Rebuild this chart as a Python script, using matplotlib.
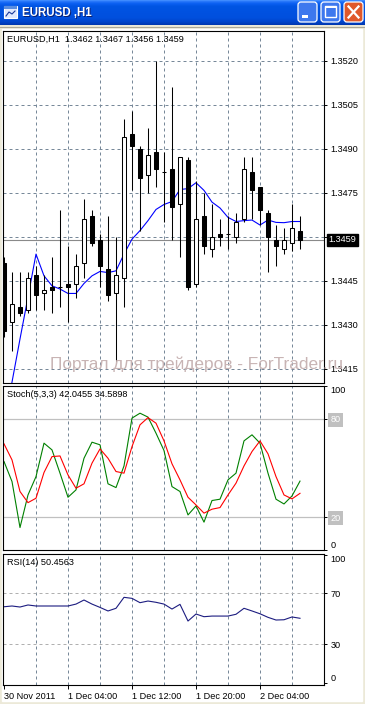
import numpy as np
import matplotlib
matplotlib.use("Agg")
import matplotlib.pyplot as plt
from matplotlib.patches import Rectangle, FancyBboxPatch
from matplotlib.transforms import blended_transform_factory

plt.rcParams['font.family'] = ['Liberation Sans', 'DejaVu Sans']

# EURUSD H1 bars, 30 Nov 20:00 .. 2 Dec 09:00
opens = [1.3451, 1.3431, 1.3436, 1.3435, 1.3447, 1.3441, 1.3443, 1.3443, 1.3444, 1.3444,
         1.3451, 1.3467, 1.3459, 1.3449, 1.3441, 1.3446, 1.3495, 1.3490, 1.3481, 1.3489,
         1.3482, 1.3483, 1.3471, 1.3486, 1.3444, 1.3467, 1.3456, 1.3461, 1.3461, 1.3460,
         1.3466, 1.3482, 1.3477, 1.3468, 1.3459, 1.3456, 1.3458, 1.3462]
highs = [1.3453, 1.3448, 1.3448, 1.3448, 1.3450, 1.3447, 1.3453, 1.3469, 1.3457, 1.3454,
         1.3473, 1.3469, 1.3461, 1.3467, 1.3460, 1.3500, 1.3503, 1.3491, 1.3497, 1.3520,
         1.3489, 1.3511, 1.3487, 1.3487, 1.3479, 1.3475, 1.3471, 1.3466, 1.3467, 1.3468,
         1.3487, 1.3487, 1.3477, 1.3469, 1.3464, 1.3463, 1.3471, 1.3467]
lows = [1.3426, 1.3421, 1.3433, 1.3434, 1.3435, 1.3435, 1.3434, 1.3436, 1.3431, 1.3439,
        1.3446, 1.3457, 1.3443, 1.3438, 1.3417, 1.3436, 1.3476, 1.3462, 1.3475, 1.3477,
        1.3465, 1.3459, 1.3453, 1.3442, 1.3443, 1.3454, 1.3453, 1.3457, 1.3456, 1.3458,
        1.3465, 1.3466, 1.3464, 1.3448, 1.3450, 1.3454, 1.3455, 1.3456]
closes = [1.3428, 1.3437, 1.3434, 1.3446, 1.3440, 1.3442, 1.3442, 1.3443, 1.3443, 1.3450,
          1.3466, 1.3458, 1.3450, 1.3440, 1.3447, 1.3494, 1.3491, 1.3480, 1.3488, 1.3483,
          1.3482, 1.3470, 1.3487, 1.3443, 1.3466, 1.3457, 1.3460, 1.3460, 1.3461, 1.3465,
          1.3483, 1.3476, 1.3469, 1.3460, 1.3457, 1.3459, 1.3463, 1.3459]
ma = [1.33958, 1.34105, 1.34252, 1.34395, 1.34541, 1.34467, 1.34433, 1.34422, 1.34407, 1.34407,
      1.34441, 1.34467, 1.34482, 1.34478, 1.34484, 1.34541, 1.34592, 1.34621, 1.34655, 1.34693,
      1.34710, 1.34720, 1.34761, 1.34764, 1.34784, 1.34758, 1.34718, 1.34698, 1.34666, 1.34652,
      1.34655, 1.34657, 1.34640, 1.34657, 1.34649, 1.34648, 1.34652, 1.34652]

stoch_k = [54.0, 41.8, 13.7, 33.6, 44.8, 65.2, 61.1, 46.9, 32.2, 36.7,
           56.0, 65.8, 64.2, 40.4, 38.1, 51.3, 80.5, 83.5, 81.1, 71.3,
           60.7, 38.7, 35.7, 21.4, 26.9, 17.0, 30.2, 31.0, 42.8, 46.9,
           66.6, 70.3, 65.2, 46.9, 31.0, 28.1, 33.0, 42.0455]
stoch_d = [64.8, 55.0, 35.7, 28.9, 31.6, 47.3, 57.0, 57.4, 45.8, 37.7,
           40.4, 53.0, 61.7, 56.0, 47.9, 46.9, 63.1, 76.4, 80.8, 77.4,
           66.6, 52.6, 42.8, 32.2, 27.5, 22.5, 24.9, 25.9, 33.6, 40.8,
           51.3, 60.1, 66.6, 58.7, 44.8, 33.6, 31.2, 34.5898]
rsi = [59.5, 60.1, 59.3, 60.9, 60.1, 60.1, 60.1, 60.1, 60.1, 61.6,
       64.8, 61.6, 59.0, 56.2, 58.3, 66.9, 66.1, 62.7, 64.0, 63.0,
       61.6, 57.7, 61.4, 48.3, 53.8, 51.7, 52.2, 52.2, 52.2, 53.6,
       58.3, 56.2, 54.0, 51.2, 49.1, 49.3, 51.5, 50.4563]

price_ticks = [1.3415, 1.3430, 1.3445, 1.3460, 1.3475, 1.3490, 1.3505, 1.3520]
date_pos = [0, 8, 16, 24, 32]
date_labels = ['30 Nov 2011', '1 Dec 04:00', '1 Dec 12:00', '1 Dec 20:00', '2 Dec 04:00']
grid_pos = [4, 8, 12, 16, 20, 24, 28, 32, 36]
watermark = 'Портал для трейдеров - ForTrader.ru'

W, H = 365, 704
GRID = '#778899'
FS = 6.6
LW = 0.75


def frac(x0, y0, x1, y1):
    return [x0 / W, 1 - y1 / H, (x1 - x0) / W, (y1 - y0) / H]


fig = plt.figure(figsize=(W / 100, H / 100), dpi=100)
fig.patch.set_facecolor('white')

# window frame drawn in pixel units
bg = fig.add_axes([0, 0, 1, 1])
bg.set_xlim(0, W)
bg.set_ylim(H, 0)
bg.axis('off')
bg.add_patch(Rectangle((0, 0), W, H, color='#ece9d8'))
bg.add_patch(Rectangle((2, 29), 360, 672, color='white'))
bg.plot([0, W], [26.5, 26.5], color='#aca899', lw=0.8)

# XP title bar gradient
stops_y = [0, 1, 3, 6, 18, 22, 25]
stops = np.array([[0.25, 0.55, 1.0], [0.16, 0.47, 0.98], [0.05, 0.38, 0.95],
                  [0.0, 0.33, 0.89], [0.0, 0.31, 0.87], [0.0, 0.27, 0.80], [0.0, 0.22, 0.70]])
rows = np.linspace(0, 25, 26)
grad = np.stack([np.interp(rows, stops_y, stops[:, k]) for k in range(3)], axis=1)
bg.imshow(grad[:, None, :].repeat(2, axis=1), extent=(0, W, 25, 0), aspect='auto',
          origin='upper', interpolation='bilinear', zorder=1)
bg.set_xlim(0, W)
bg.set_ylim(H, 0)

# title icon
bg.add_patch(Rectangle((4, 6), 13, 12, fc='#dfe8ff', ec='white', lw=0.8, zorder=2))
bg.add_patch(Rectangle((4, 6), 13, 3, fc='#5a8de0', ec='none', zorder=2))
bg.plot([6, 9, 12, 15], [16, 12, 14, 11], color='#1a3a9a', lw=0.8, zorder=3)
bg.text(23, 14, 'EURUSD ,H1', color='#0a2070', fontweight='bold', fontsize=8.3,
        va='center', zorder=3)
bg.text(22, 13, 'EURUSD ,H1', color='white', fontweight='bold', fontsize=8.3,
        va='center', zorder=4)

for x0, fc in [(298, '#3d78ee'), (321, '#3d78ee'), (344, '#e0582a')]:
    bg.add_patch(FancyBboxPatch((x0, 2), 19, 20, boxstyle='round,pad=0,rounding_size=3',
                                fc=fc, ec='white', lw=0.9, zorder=3))
bg.add_patch(Rectangle((302, 15), 6, 2.5, fc='white', ec='none', zorder=4))
bg.add_patch(Rectangle((325, 6), 11, 11, fc='none', ec='white', lw=1.0, zorder=4))
bg.add_patch(Rectangle((325, 6), 11, 2, fc='white', ec='none', zorder=4))
bg.plot([348.5, 358.5], [6.5, 17.5], color='white', lw=1.6, zorder=4)
bg.plot([348.5, 358.5], [17.5, 6.5], color='white', lw=1.6, zorder=4)

idx = np.arange(len(closes))
o = np.array(opens)
h = np.array(highs)
lo = np.array(lows)
c = np.array(closes)
XLIM = (-0.125, 40.0)


def style_panel(ax):
    ax.set_xlim(*XLIM)
    ax.set_facecolor('white')
    for s in ax.spines.values():
        s.set_color('black')
        s.set_linewidth(0.8)
    for gx in grid_pos:
        ax.axvline(gx, color=GRID, lw=0.72, ls=(0, (3, 3)), zorder=0.5)
    ax.yaxis.tick_right()
    ax.tick_params(axis='y', length=2.5, width=0.7, pad=2, labelsize=FS, colors='black')
    ax.tick_params(axis='x', length=0, labelbottom=False)


# ---- main price panel
main = fig.add_axes(frac(3, 31, 324, 383))
style_panel(main)
main.set_ylim(1.341020, 1.353008)
main.set_yticks(price_ticks)
main.set_yticklabels(['' if abs(p - c[-1]) < 0.0002 else f'{p:.4f}' for p in price_ticks])
main.set_xticks([])
for p in price_ticks:
    main.axhline(p, color=GRID, lw=0.72, ls=(0, (3, 3)), zorder=0.5)
main.axhline(c[-1], color='#8a8a8a', lw=0.8, zorder=1)
main.plot(idx, ma, color='#0000ff', lw=0.8, zorder=1.5)
main.vlines(idx, lo, h, color='black', lw=LW, zorder=2)
up = c > o
dn = c < o
fl = c == o
main.bar(idx[up], (c - o)[up], bottom=o[up], width=0.6, fc='white', ec='black', lw=LW, zorder=3)
main.bar(idx[dn], (o - c)[dn], bottom=c[dn], width=0.6, fc='black', ec='black', lw=LW, zorder=3)
main.hlines(c[fl], idx[fl] - 0.3, idx[fl] + 0.3, color='black', lw=LW, zorder=3)
tr = blended_transform_factory(main.transAxes, main.transData)
main.annotate(f'{c[-1]:.4f}', xy=(1, c[-1]), xycoords=tr, xytext=(3.0, 0),
              textcoords='offset points', ha='left', va='center', color='white', fontsize=FS,
              bbox=dict(boxstyle='square,pad=0.18', fc='black', ec='black'),
              annotation_clip=False)
main.annotate(f'EURUSD,H1  {o[-1]:.4f} {h[-1]:.4f} {lo[-1]:.4f} {c[-1]:.4f}',
              xy=(0, 1), xycoords='axes fraction', xytext=(3, -3), textcoords='offset points',
              ha='left', va='top', fontsize=FS, zorder=5)

# ---- stochastic panel
st = fig.add_axes(frac(3, 385.5, 324, 550))
style_panel(st)
st.set_ylim(0, 100.4)
for lvl in (20, 80):
    st.axhline(lvl, color='#c0c0c0', lw=0.9, zorder=0.6)
st.plot(idx, stoch_k, color='#008000', lw=0.8, zorder=2)
st.plot(idx, stoch_d, color='#ff0000', lw=0.8, zorder=2)
st.set_yticks([0, 20, 80, 100])
st.set_yticklabels(['0', '20', '80', '100'])
tl = st.get_yticklabels()
tl[0].set_va('bottom')
tl[3].set_va('top')
for k in (1, 2):
    tl[k].set_color('white')
    tl[k].set_bbox(dict(boxstyle='square,pad=0.25', fc='#c0c0c0', ec='none'))
st.annotate(f'Stoch(5,3,3) {stoch_k[-1]:.4f} {stoch_d[-1]:.4f}', xy=(0, 1),
            xycoords='axes fraction', xytext=(3, -3), textcoords='offset points',
            ha='left', va='top', fontsize=FS, zorder=5)

# ---- RSI panel
rs = fig.add_axes(frac(3, 553.5, 324, 685))
style_panel(rs)
rs.set_ylim(-1.9, 101.3)
for lvl in (30, 70):
    rs.axhline(lvl, color='#b0b0b0', lw=0.72, ls=(0, (3, 3)), zorder=0.6)
rs.plot(idx, rsi, color='#1c1c80', lw=0.8, zorder=2)
rs.set_yticks([0, 30, 70, 100])
rs.set_yticklabels(['0', '30', '70', '100'])
rl = rs.get_yticklabels()
rl[0].set_va('bottom')
rl[3].set_va('top')
rs.annotate(f'RSI(14) {rsi[-1]:.4f}', xy=(0, 1), xycoords='axes fraction', xytext=(3, -3),
            textcoords='offset points', ha='left', va='top', fontsize=FS, zorder=5)
rs.set_xticks(date_pos)
rs.set_xticklabels(date_labels, ha='left')
rs.tick_params(axis='x', length=3, width=0.7, pad=2, labelsize=FS, labelbottom=True,
               direction='out')

fig.text(197 / W, 1 - 368.5 / H, watermark, ha='center', va='baseline',
         fontsize=12.4, color='#c8b4b4')

fig.savefig('out.png', dpi=100, facecolor=fig.get_facecolor())
